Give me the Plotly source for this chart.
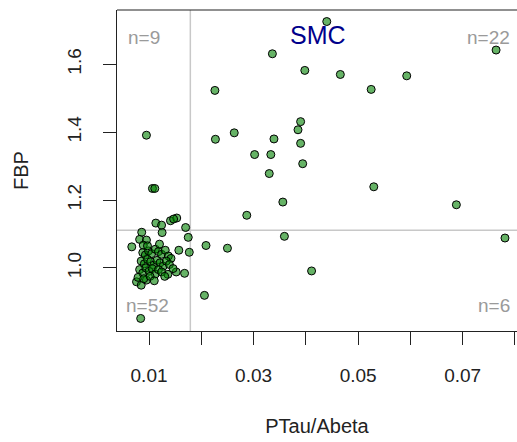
import plotly.graph_objects as go

# PTau/Abeta ratio and FBP for each subject, grouped by quadrant
ratio_hh = [0.0440, 0.0336, 0.0398, 0.0466, 0.0226, 0.0390, 0.0385, 0.0263, 0.0227, 0.0339, 0.0390,
            0.0302, 0.0333, 0.0394, 0.0525, 0.0593, 0.0764, 0.0530, 0.0688, 0.0330, 0.0356, 0.0287]
fbp_hh = [1.726, 1.631, 1.582, 1.570, 1.523, 1.431, 1.407, 1.398, 1.379, 1.380, 1.367,
          1.334, 1.334, 1.307, 1.526, 1.566, 1.642, 1.239, 1.186, 1.278, 1.194, 1.155]

ratio_hl = [0.0359, 0.0209, 0.0250, 0.0411, 0.0206, 0.0781]
fbp_hl = [1.093, 1.066, 1.058, 0.991, 0.919, 1.088]

ratio_lh = [0.0095, 0.01065, 0.0111, 0.0141, 0.0153, 0.0147, 0.0113, 0.0170, 0.0124]
fbp_lh = [1.391, 1.234, 1.234, 1.139, 1.147, 1.144, 1.132, 1.119, 1.126]

ratio_ll = [0.0086, 0.0125, 0.0175, 0.0082, 0.0095, 0.0067, 0.0089, 0.0157, 0.0177, 0.0152,
            0.0168, 0.0136, 0.0076, 0.0085, 0.0095, 0.0084,
            0.0088, 0.0093, 0.0099, 0.0105, 0.0112, 0.0118, 0.0124, 0.0131, 0.0137, 0.0142,
            0.0085, 0.0091, 0.0097, 0.0103, 0.0109, 0.0115, 0.0121, 0.0127, 0.0133, 0.0139,
            0.0082, 0.0088, 0.0094, 0.0100, 0.0106, 0.0112, 0.0118, 0.0124, 0.0130, 0.0146,
            0.0079, 0.0090, 0.0102, 0.0110, 0.0097, 0.0120]
fbp_ll = [1.105, 1.104, 1.090, 1.084, 1.082, 1.062, 1.067, 1.052, 1.046, 0.988,
          0.984, 0.981, 0.959, 0.949, 0.964, 0.851,
          1.045, 1.038, 1.050, 1.042, 1.055, 1.048, 1.040, 1.052, 1.035, 1.028,
          1.020, 1.012, 1.025, 1.018, 1.008, 1.022, 1.015, 1.005, 1.020, 1.010,
          0.995, 0.985, 1.000, 0.990, 0.998, 0.982, 0.995, 0.988, 0.975, 0.998,
          0.972, 0.968, 0.975, 0.962, 1.065, 1.070]

# cut-offs for the quadrant split
ratio_cut = 0.0179
fbp_cut = 1.111

x_ticks = [0.01, 0.02, 0.03, 0.04, 0.05, 0.06, 0.07, 0.08]
x_tick_text = ["0.01", "", "0.03", "", "0.05", "", "0.07", ""]
y_ticks = [1.0, 1.2, 1.4, 1.6]
y_tick_text = ["1.0", "1.2", "1.4", "1.6"]

counts = {
    "ll": len(ratio_ll), "lh": len(ratio_lh),
    "hh": len(ratio_hh), "hl": len(ratio_hl),
}

x_all = ratio_ll + ratio_lh + ratio_hh + ratio_hl
y_all = fbp_ll + fbp_lh + fbp_hh + fbp_hl

FONT = "Liberation Sans, Arial, sans-serif"

fig = go.Figure()
fig.add_trace(go.Scatter(
    x=x_all, y=y_all, mode="markers",
    marker=dict(size=8, color="rgba(0,128,0,0.6)",
                line=dict(color="black", width=1)),
    hoverinfo="x+y", showlegend=False,
))

# quadrant split lines
fig.add_vline(x=ratio_cut, line=dict(color="#c8c8c8", width=1.5), layer="below")
fig.add_hline(y=fbp_cut, line=dict(color="#c8c8c8", width=1.5), layer="below")

# top frame line (right side runs off the page)
fig.add_shape(type="line", xref="paper", yref="paper", x0=0, x1=1, y0=1, y1=1,
              line=dict(color="#222", width=1.2))

gray = "#9a9a9a"
fig.add_annotation(text=f"n={counts['lh']}", xref="x domain", yref="y domain",
                   x=0.022, y=0.913, xanchor="left", yanchor="middle", showarrow=False,
                   font=dict(family=FONT, size=19, color=gray))
fig.add_annotation(text=f"n={counts['hh']}", xref="x domain", yref="y domain",
                   x=0.988, y=0.913, xanchor="right", yanchor="middle", showarrow=False,
                   font=dict(family=FONT, size=19, color=gray))
fig.add_annotation(text=f"n={counts['ll']}", xref="x domain", yref="y domain",
                   x=0.017, y=0.080, xanchor="left", yanchor="middle", showarrow=False,
                   font=dict(family=FONT, size=19, color=gray))
fig.add_annotation(text=f"n={counts['hl']}", xref="x domain", yref="y domain",
                   x=0.988, y=0.080, xanchor="right", yanchor="middle", showarrow=False,
                   font=dict(family=FONT, size=19, color=gray))
fig.add_annotation(text="SMC", xref="x domain", yref="y domain",
                   x=0.503, y=0.922, xanchor="center", yanchor="middle", showarrow=False,
                   font=dict(family=FONT, size=25, color="#00008B"))

fig.update_xaxes(
    range=[0.00387, 0.0804], tickvals=x_ticks, ticktext=x_tick_text,
    ticks="outside", ticklen=13, tickwidth=1.2, tickcolor="#222",
    showline=True, linecolor="#222", linewidth=1.2, mirror=False,
    showgrid=False, zeroline=False,
    ticklabelstandoff=14,
    tickfont=dict(family=FONT, size=19, color="#222"),
    title=dict(text="PTau/Abeta", standoff=34,
               font=dict(family=FONT, size=20, color="#222")),
)
fig.update_yaxes(
    range=[0.814, 1.760], tickvals=y_ticks, ticktext=y_tick_text,
    ticks="outside", ticklen=13, tickwidth=1.2, tickcolor="#222",
    showline=True, linecolor="#222", linewidth=1.2, mirror=False,
    showgrid=False, zeroline=False, tickangle=-90,
    ticklabelstandoff=14,
    tickfont=dict(family=FONT, size=19, color="#222"),
    title=dict(text="FBP", standoff=30,
               font=dict(family=FONT, size=20, color="#222")),
)

fig.update_layout(
    width=517, height=442,
    margin=dict(l=117, r=0, t=10, b=111, autoexpand=False),
    plot_bgcolor="white", paper_bgcolor="white",
)

fig.write_html("out.html")
